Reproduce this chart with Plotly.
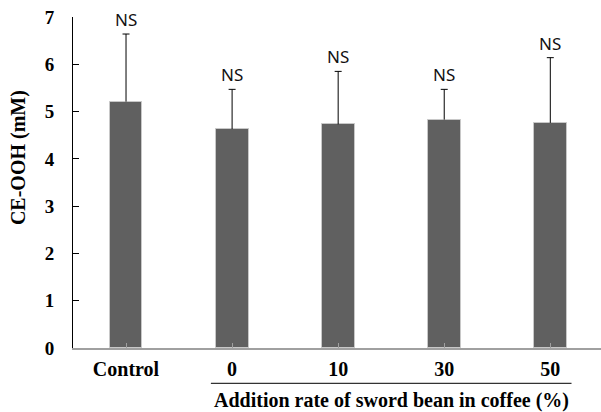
import plotly.graph_objects as go

categories = ["Control", "0", "10", "30", "50"]
means = [5.21, 4.63, 4.73, 4.83, 4.76]
sds = [1.43, 0.84, 1.12, 0.64, 1.38]
sig_labels = ["NS", "NS", "NS", "NS", "NS"]
y_ticks = [0, 1, 2, 3, 4, 5, 6, 7]

x_idx = list(range(len(categories)))

fig = go.Figure()
fig.add_trace(go.Bar(
    x=x_idx, y=means, width=0.31,
    marker=dict(color="#606060", line=dict(color="#c8c8c8", width=1)),
    showlegend=False,
))

# upper-only error bars: stem from bar top to mean+sd, with a cap at the top
ex, ey = [], []
for i, (m, s) in enumerate(zip(means, sds)):
    ex += [i, i, None]
    ey += [m, m + s, None]
fig.add_trace(go.Scatter(x=ex, y=ey, mode="lines", line=dict(color="black", width=1),
                         showlegend=False, hoverinfo="skip"))
fig.add_trace(go.Scatter(x=x_idx, y=[m + s for m, s in zip(means, sds)], mode="markers",
                         marker=dict(symbol="line-ew", size=5, line=dict(color="black", width=1)),
                         showlegend=False, hoverinfo="skip"))

serif = "Liberation Serif, Times New Roman, serif"

for i, (m, s, lab) in enumerate(zip(means, sds, sig_labels)):
    fig.add_annotation(x=i, y=m + s, text=lab, showarrow=False, yanchor="bottom",
                       yshift=1, font=dict(family="Noto Sans, Open Sans, sans-serif", size=17, color="#111"))

# bracket under treatment group labels
fig.add_shape(type="line", xref="x", yref="paper", x0=0.8, x1=4.2, y0=-0.107, y1=-0.107,
              line=dict(color="#333", width=1.2))
fig.add_annotation(x=2.5, xref="x", y=-0.16, yref="paper", yanchor="middle",
                   text="Addition rate of sword bean in coffee (%)", showarrow=False,
                   font=dict(family=serif, size=20, color="black", weight="bold"))
fig.add_annotation(x=-0.104, xref="paper", y=0.574, yref="paper", xanchor="center", yanchor="middle",
                   text="CE-OOH (mM)", textangle=-90, showarrow=False,
                   font=dict(family=serif, size=20, color="black", weight="bold"))

fig.update_layout(
    width=601, height=412,
    margin=dict(l=73, r=0, t=17, b=64),
    plot_bgcolor="white", paper_bgcolor="white",
    bargap=0,
)
fig.update_xaxes(
    range=[-0.5, 4.478], tickmode="array", tickvals=x_idx, ticktext=categories,
    tickson="boundaries", ticks="inside", ticklen=5, tickcolor="#a0a0a0", tickwidth=1,
    showline=True, linecolor="#a0a0a0", linewidth=1.5, showgrid=False, zeroline=False,
    tickfont=dict(family=serif, size=20, color="black", weight="bold"),
    ticklabelstandoff=2,
)
fig.update_yaxes(
    range=[0, 7], tickmode="array", tickvals=y_ticks,
    ticks="inside", ticklen=6, tickcolor="black", tickwidth=1,
    showline=True, linecolor="black", linewidth=1, showgrid=False, zeroline=False,
    tickfont=dict(family=serif, size=19, color="black", weight="bold"),
    ticklabelstandoff=14,
)

fig.write_html("out.html")
